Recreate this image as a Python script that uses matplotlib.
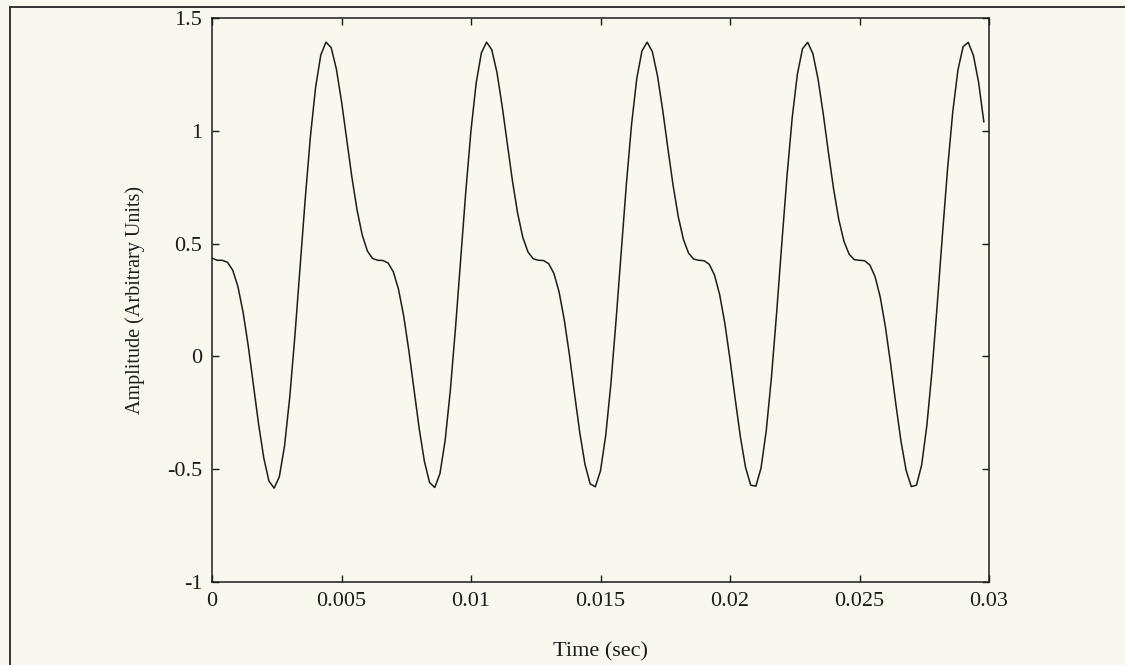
import numpy as np
import matplotlib
matplotlib.use("Agg")
import matplotlib.pyplot as plt
from matplotlib.lines import Line2D

# Sampled signal: 150 samples at 5 kHz (0 .. 0.0298 s)
sample_step = 0.0002
amplitude = [
    0.436, 0.426, 0.426, 0.417, 0.382, 0.310, 0.196, 0.046, -0.127, -0.301,
    -0.451, -0.553, -0.584, -0.533, -0.397, -0.183, 0.090, 0.394, 0.699, 0.975,
    1.193, 1.336, 1.393, 1.369, 1.275, 1.131, 0.963, 0.795, 0.649, 0.538,
    0.467,
    0.434, 0.426, 0.425, 0.414, 0.375, 0.298, 0.180, 0.026, -0.148, -0.320,
    -0.465, -0.559, -0.581, -0.520, -0.374, -0.153, 0.124, 0.429, 0.732, 1.002,
    1.212, 1.345, 1.393, 1.360, 1.260, 1.112, 0.944, 0.778, 0.635, 0.528,
    0.463,
    0.433, 0.426, 0.425, 0.411, 0.368, 0.286, 0.163, 0.007, -0.168, -0.338,
    -0.478, -0.565, -0.578, -0.507, -0.352, -0.123, 0.159, 0.465, 0.765, 1.029,
    1.231, 1.354, 1.393, 1.351, 1.244, 1.093, 0.924, 0.760, 0.621, 0.519,
    0.458,
    0.431, 0.426, 0.424, 0.408, 0.361, 0.274, 0.147, -0.013, -0.188, -0.356,
    -0.492, -0.571, -0.575, -0.494, -0.329, -0.093, 0.193, 0.500, 0.798, 1.056,
    1.250, 1.364, 1.392, 1.342, 1.229, 1.075, 0.904, 0.742, 0.607, 0.510,
    0.453,
    0.429, 0.426, 0.424, 0.405, 0.354, 0.263, 0.131, -0.032, -0.209, -0.375,
    -0.505, -0.577, -0.571, -0.481, -0.307, -0.064, 0.227, 0.536, 0.831, 1.083,
    1.269, 1.373, 1.392, 1.333, 1.214, 1.040,
]
time = np.arange(len(amplitude)) * sample_step

x_ticks = [0, 0.005, 0.01, 0.015, 0.02, 0.025, 0.03]
x_tick_labels = ["0", "0.005", "0.01", "0.015", "0.02", "0.025", "0.03"]
y_ticks = [-1, -0.5, 0, 0.5, 1, 1.5]
y_tick_labels = ["-1", "-0.5", "0", "0.5", "1", "1.5"]

paper = "#f8f8ee"
ink = "#1c1c1c"

plt.rcParams["font.family"] = ["Liberation Serif", "DejaVu Serif"]

fig = plt.figure(figsize=(11.25, 6.65), dpi=100, facecolor=paper)
ax = fig.add_axes([212 / 1125, 1 - 582 / 665, 777 / 1125, 564 / 665])
ax.set_facecolor(paper)

ax.plot(time, amplitude, color=ink, linewidth=1.1)

ax.set_xlim(0, 0.03)
ax.set_ylim(-1, 1.5)
ax.set_xticks(x_ticks)
ax.set_xticklabels(x_tick_labels)
ax.set_yticks(y_ticks)
ax.set_yticklabels(y_tick_labels)
ax.tick_params(direction="in", length=5, width=1, colors=ink,
               top=True, right=True, labelsize=16, pad=7)
for spine in ax.spines.values():
    spine.set_color(ink)
    spine.set_linewidth(1.1)

ax.set_xlabel("Time (sec)", fontsize=16, color=ink, labelpad=23)
ax.set_ylabel("Amplitude (Arbitrary Units)", fontsize=14.5, color=ink, labelpad=16)

# Outer border of the page
fig.add_artist(Line2D([10 / 1125, 1.0], [1 - 7 / 665, 1 - 7 / 665],
                      transform=fig.transFigure, color="#333333", linewidth=1.4))
fig.add_artist(Line2D([10 / 1125, 10 / 1125], [0.0, 1 - 7 / 665],
                      transform=fig.transFigure, color="#333333", linewidth=1.4))

fig.savefig("out.png", dpi=100, facecolor=paper)
